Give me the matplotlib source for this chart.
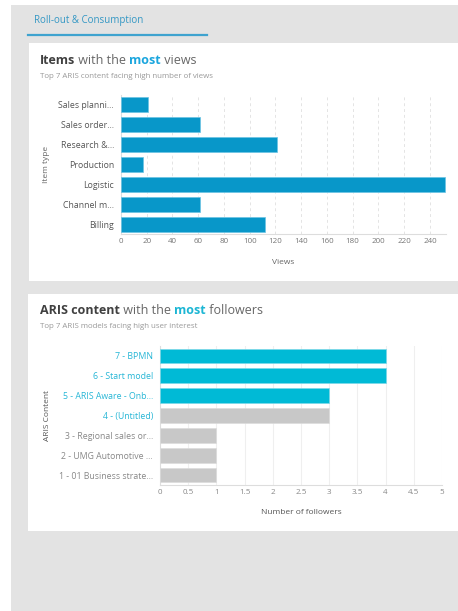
import matplotlib
matplotlib.use("Agg")
import matplotlib.pyplot as plt
from matplotlib.patches import Rectangle
from matplotlib.lines import Line2D

plt.rcParams['font.family'] = ['Open Sans', 'DejaVu Sans']

# ---- data ----
item_types = ["Sales planni...", "Sales order...", "Research &...", "Production",
              "Logistic", "Channel m...", "Billing"]
item_views = [21, 61, 121, 17, 252, 61, 112]
view_ticks = [0, 20, 40, 60, 80, 100, 120, 140, 160, 180, 200, 220, 240]

content_labels = ["7 - BPMN", "6 - Start model", "5 - ARIS Aware - Onb...",
                  "4 - (Untitled)", "3 - Regional sales or...",
                  "2 - UMG Automotive ...", "1 - 01 Business strate..."]
content_followers = [4, 4, 3, 3, 1, 1, 1]
content_highlight = [True, True, True, False, False, False, False]
label_highlight = [True, True, True, True, False, False, False]
follower_ticks = [0, 0.5, 1, 1.5, 2, 2.5, 3, 3.5, 4, 4.5, 5]

W, H = 458, 611
fig = plt.figure(figsize=(W / 100, H / 100), dpi=100)
fig.patch.set_facecolor('white')


def rect(x0, y0, x1, y1, color):
    fig.patches.append(Rectangle((x0 / W, 1 - y1 / H), (x1 - x0) / W, (y1 - y0) / H,
                                 transform=fig.transFigure, facecolor=color,
                                 edgecolor='none', zorder=-5))


def ax_px(x0, y0, x1, y1):
    return fig.add_axes([x0 / W, 1 - y1 / H, (x1 - x0) / W, (y1 - y0) / H])


GRAY_BG = '#e3e3e3'
rect(11, 5, 458, 611, GRAY_BG)
rect(29, 43, 458, 281, 'white')
rect(28, 294, 458, 531, 'white')

# tab
fig.text(34 / W, 1 - 20 / H, "Roll-out & Consumption", fontsize=7, color='#3397c4',
         va='center', ha='left')
fig.add_artist(Line2D([28 / W, 207 / W], [1 - 35 / H, 1 - 35 / H], color='#3fa3cf',
                      lw=1.6, transform=fig.transFigure))

renderer = fig.canvas.get_renderer()


def rich_title(x, y, parts, size):
    xp = x
    for txt, color, weight in parts:
        t = fig.text(xp / W, 1 - y / H, txt, fontsize=size, color=color,
                     fontweight=weight, va='center', ha='left')
        bb = t.get_window_extent(renderer)
        xp += bb.width


DARK = '#404040'
MID = '#666666'
BLUE = '#1ba6de'
rich_title(40, 61, [("Items", DARK, 'bold'), (" with the ", MID, 'normal'),
                    ("most", BLUE, 'bold'), (" views", MID, 'normal')], 9.0)
fig.text(40 / W, 1 - 76 / H, "Top 7 ARIS content facing high number of views",
         fontsize=5.7, color='#999999', va='center', ha='left')

rich_title(40, 311, [("ARIS content", DARK, 'bold'), (" with the ", MID, 'normal'),
                     ("most", '#1cb6d4', 'bold'), (" followers", MID, 'normal')], 9.0)
fig.text(40 / W, 1 - 327 / H, "Top 7 ARIS models facing high user interest",
         fontsize=5.7, color='#999999', va='center', ha='left')

# ---- chart 1 ----
ax1 = ax_px(121, 95, 446, 234)
y1 = list(range(len(item_types)))
ax1.barh(y1, item_views, height=0.76, color='#0897c9', edgecolor='#6cc4e4',
         linewidth=0.5, zorder=3)
ax1.set_ylim(len(item_types) - 0.5, -0.5)
ax1.set_xlim(0, 252.5)
ax1.set_yticks(y1)
ax1.set_yticklabels(item_types, fontsize=6.3, color='#555555')
ax1.set_xticks(view_ticks)
ax1.set_xticklabels([str(v) for v in view_ticks], fontsize=5.8, color='#777777')
ax1.tick_params(length=0, pad=3)
ax1.tick_params(axis='y', pad=5)
ax1.grid(axis='x', color='#e4e4e4', linestyle=(0, (3, 3)), linewidth=0.7, zorder=0)
ax1.set_axisbelow(True)
for s in ['top', 'right']:
    ax1.spines[s].set_visible(False)
for s in ['left', 'bottom']:
    ax1.spines[s].set_color('#dddddd')
    ax1.spines[s].set_linewidth(0.8)
ax1.set_xlabel("Views", fontsize=6, color='#666666', labelpad=10)
ax1.set_ylabel("Item type", fontsize=6, color='#666666', labelpad=6)

# ---- chart 2 ----
ax2 = ax_px(160, 346, 442, 485)
y2 = list(range(len(content_labels)))
colors2 = ['#00bad6' if h else '#c8c8c8' for h in content_highlight]
edges2 = ['#7dd8e8' if h else '#dcdcdc' for h in content_highlight]
ax2.barh(y2, content_followers, height=0.74, color=colors2, edgecolor=edges2,
         linewidth=0.5, zorder=3)
ax2.set_ylim(len(content_labels) - 0.5, -0.5)
ax2.set_xlim(0, 5)
ax2.set_yticks(y2)
ax2.set_yticklabels(content_labels, fontsize=6.3)
for lbl, h in zip(ax2.get_yticklabels(), label_highlight):
    lbl.set_color('#26b6d6' if h else '#888888')
ax2.set_xticks(follower_ticks)
ax2.set_xticklabels([f"{v:g}" for v in follower_ticks], fontsize=5.8, color='#888888')
ax2.tick_params(length=0, pad=3)
ax2.tick_params(axis='y', pad=5)
ax2.grid(axis='x', color='#efefef', linestyle='-', linewidth=0.8, zorder=0)
ax2.set_axisbelow(True)
for s in ['top', 'right']:
    ax2.spines[s].set_visible(False)
for s in ['left', 'bottom']:
    ax2.spines[s].set_color('#dddddd')
    ax2.spines[s].set_linewidth(0.8)
ax2.set_xlabel("Number of followers", fontsize=6, color='#555555', labelpad=9)
ax2.set_ylabel("ARIS Content", fontsize=6, color='#555555', labelpad=6)

fig.savefig("out.png", dpi=100)
